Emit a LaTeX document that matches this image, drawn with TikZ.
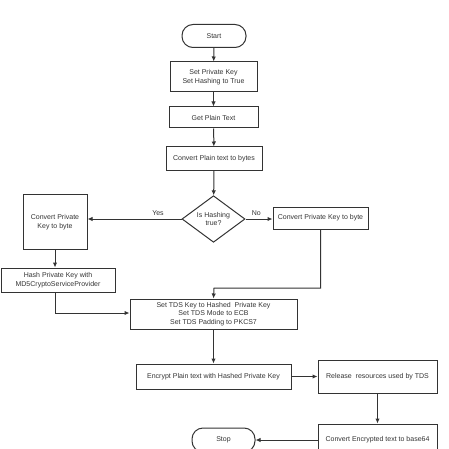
\documentclass[tikz,border=0pt]{standalone}
\usepackage{fontspec}
\setmainfont{Liberation Sans}
\usetikzlibrary{arrows.meta,shapes.geometric}
\definecolor{ln}{HTML}{333333}
\definecolor{tx}{HTML}{333333}
\begin{document}
\begin{tikzpicture}[x=1pt,y=-1pt,
  box/.style={draw=ln,line width=1pt,inner sep=1pt,align=center,text=tx,font=\fontsize{7}{8.4}\selectfont},
  term/.style={box,rounded corners=11pt},
  dec/.style={draw=ln,line width=1pt,diamond,inner sep=0pt,align=center,text=tx,font=\fontsize{7}{8.4}\selectfont},
  arr/.style={draw=ln,line width=1pt,-{Latex[length=5pt,width=4.5pt]}},
  lab/.style={text=tx,font=\fontsize{7}{8.4}\selectfont,inner sep=0pt}]
\useasboundingbox (0,0) rectangle (449,449);
\node[term,minimum width=64pt,minimum height=23pt] (start) at (214,36) {Start};
\node[box,minimum width=87pt,minimum height=30pt] (setkey) at (213.5,77) {Set Private Key\\Set Hashing to True};
\node[box,minimum width=89pt,minimum height=21pt] (plain) at (213.5,117.5) {Get Plain Text};
\node[box,minimum width=96pt,minimum height=23pt] (tobytes) at (214,158.5) {Convert Plain text to bytes};
\node[dec,minimum width=63pt,minimum height=44pt] (hash) at (213.5,219) {Is Hashing\\true?};
\node[box,minimum width=64pt,minimum height=55pt] (lkey) at (55,222) {Convert Private\\Key to byte};
\node[box,minimum width=114pt,minimum height=24pt] (md5) at (58,280) {Hash Private Key with\\MD5CryptoServiceProvider};
\node[box,minimum width=95pt,minimum height=22pt] (rkey) at (320.5,218) {Convert Private Key to byte};
\node[box,minimum width=167pt,minimum height=30pt] (tds) at (213.5,314) {Set TDS Key to Hashed\ \ Private Key\\Set TDS Mode to ECB\\Set TDS Padding to PKCS7};
\node[box,minimum width=155pt,minimum height=25pt] (enc) at (213.5,376.5) {Encrypt Plain text with Hashed Private Key};
\node[box,minimum width=119pt,minimum height=33pt] (rel) at (377.5,376.5) {Release\ \ resources used by TDS};
\node[box,minimum width=119pt,minimum height=32pt] (b64) at (377.5,440) {Convert Encrypted text to base64};
\node[term,minimum width=63pt,minimum height=24pt] (stop) at (223.5,440) {Stop};
\coordinate (hl) at (hash.west);
\coordinate (rj) at (320.5,288);
\coordinate (tj) at (214,288);
\coordinate (mj) at (55,313);
\draw[arr] (start) -- (setkey);
\draw[arr] (setkey) -- (plain);
\draw[arr] (plain) -- (tobytes);
\draw[arr] (tobytes) -- (hash);
\draw[arr] (hash.west) -- (hl -| lkey.east) node[lab,pos=0.25,above=3pt] {Yes};
\draw[arr] (hash.east) -- (hash.east -| rkey.west) node[lab,pos=0.4,above=3pt] {No};
\draw[arr] (lkey.south) -- (lkey.south |- md5.north);
\draw[arr] (md5.south -| mj) -- (mj) -- (mj -| tds.west);
\draw[arr] (rkey.south) -- (rj) -- (tj) -- (tds.north);
\draw[arr] (tds) -- (enc);
\draw[arr] (enc) -- (rel);
\draw[arr] (rel) -- (b64);
\draw[arr] (b64) -- (stop);
\end{tikzpicture}
\end{document}
